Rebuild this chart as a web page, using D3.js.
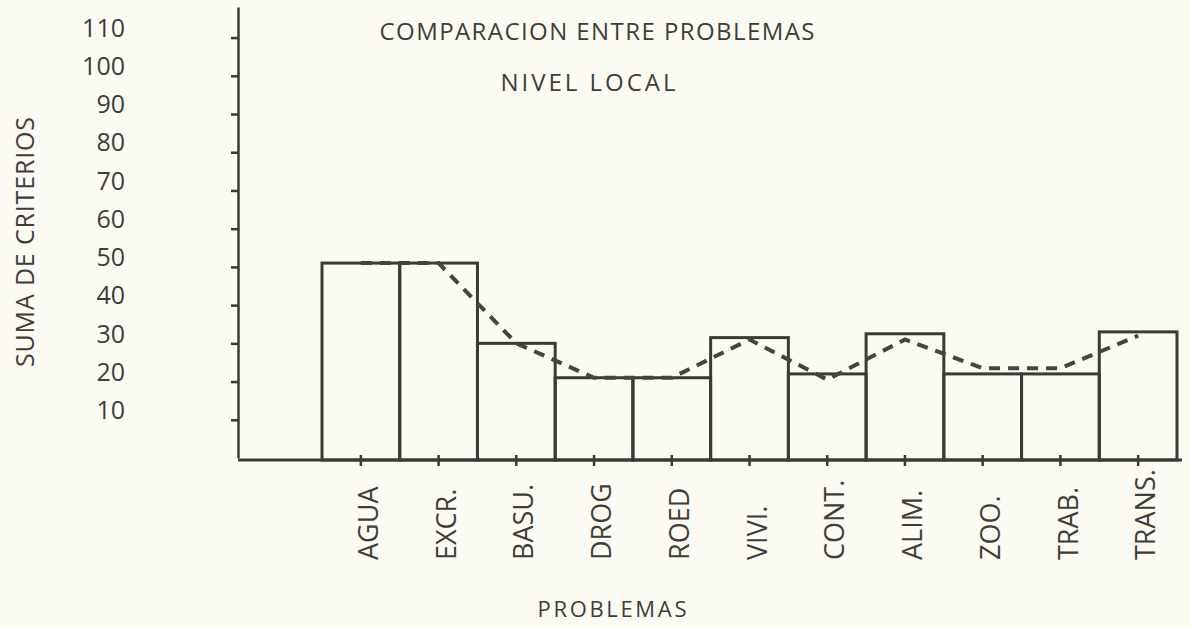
<!DOCTYPE html>
<html>
<head>
<meta charset="utf-8">
<script src="https://cdn.jsdelivr.net/npm/d3@7"></script>
<style>
  html, body { margin: 0; padding: 0; background: #fbfaf3; }
  svg { display: block; }
  text { font-family: "Open Sans", Lato, sans-serif; fill: #3e3e39; }
  .axis path, .axis line { stroke: #3b3b36; }
</style>
</head>
<body>
<svg width="1190" height="628"></svg>
<script>
// problemas evaluados (eje x)
var problemas = ["AGUA", "EXCR.", "BASU.", "DROG", "ROED", "VIVI.", "CONT.", "ALIM.", "ZOO.", "TRAB.", "TRANS."];
// suma de criterios por problema (barras)
var sumaCriterios = [51, 51, 30, 21, 21, 31.5, 22, 32.5, 22, 22, 33];
// linea discontinua
var tendencia = [51, 51, 30, 21, 21, 31, 20.5, 31, 23.5, 23.5, 32];
var yTicks = [10, 20, 30, 40, 50, 60, 70, 80, 90, 100, 110];

var ink = "#3b3b36";
var font = "'Open Sans', Lato, sans-serif";
var svg = d3.select("svg");

var axisX = 238, baseY = 458;
var x = d3.scaleBand().domain(problemas).range([322, 1177]).padding(0);
var y = d3.scaleLinear().domain([0, 118]).range([baseY, 7]);

// y axis
var gy = svg.append("g")
  .attr("class", "axis")
  .attr("transform", "translate(" + axisX + ",0)")
  .call(d3.axisLeft(y).tickValues(yTicks).tickSizeInner(7).tickSizeOuter(0).tickPadding(106));
gy.select(".domain").attr("stroke-width", 2.5);
gy.selectAll(".tick line").attr("stroke-width", 2.5);
gy.selectAll(".tick text")
  .attr("dy", "0.35em")
  .attr("y", -10)
  .attr("font-size", 25)
  .attr("fill", "#3e3e39")
  .attr("font-family", font);

// x axis
var gx = svg.append("g")
  .attr("class", "axis")
  .attr("transform", "translate(0," + (baseY + 2) + ")")
  .call(d3.axisBottom(x).tickSizeOuter(0).tickSizeInner(6).tickPadding(0));
gx.select(".domain").remove();
gx.insert("line", ":first-child")
  .attr("x1", axisX).attr("x2", 1182)
  .attr("stroke", ink).attr("stroke-width", 3);
gx.selectAll(".tick line").attr("y1", -5).attr("y2", 6).attr("stroke-width", 2.5);
gx.selectAll(".tick text")
  .attr("transform", "rotate(-90)")
  .attr("text-anchor", "start")
  .attr("x", -100)
  .attr("y", -2)
  .attr("font-size", 27)
  .attr("font-family", font)
  .attr("fill", "#3e3e39");

// barras (solo contorno)
svg.append("g")
  .selectAll("rect")
  .data(problemas)
  .enter().append("rect")
  .attr("x", function(d) { return x(d); })
  .attr("y", function(d, i) { return y(sumaCriterios[i]); })
  .attr("width", x.bandwidth())
  .attr("height", function(d, i) { return baseY + 2 - y(sumaCriterios[i]); })
  .attr("fill", "none")
  .attr("stroke", ink)
  .attr("stroke-width", 3);

// linea discontinua entre centros
var line = d3.line()
  .x(function(d, i) { return x(problemas[i]) + x.bandwidth() / 2; })
  .y(function(d) { return y(d); });

svg.append("path")
  .datum(tendencia)
  .attr("d", line)
  .attr("fill", "none")
  .attr("stroke", "#45453f")
  .attr("stroke-width", 4)
  .attr("stroke-dasharray", "11,8");

// titulos
svg.append("text")
  .attr("x", 597).attr("y", 40)
  .attr("text-anchor", "middle")
  .attr("font-size", 24)
  .attr("textLength", 435)
  .attr("lengthAdjust", "spacing")
  .text("COMPARACION ENTRE PROBLEMAS");

svg.append("text")
  .attr("x", 588).attr("y", 91)
  .attr("text-anchor", "middle")
  .attr("font-size", 24)
  .attr("textLength", 175)
  .attr("lengthAdjust", "spacing")
  .text("NIVEL LOCAL");

svg.append("text")
  .attr("transform", "translate(34,242) rotate(-90)")
  .attr("text-anchor", "middle")
  .attr("font-size", 25)
  .attr("textLength", 250)
  .attr("lengthAdjust", "spacing")
  .text("SUMA DE CRITERIOS");

svg.append("text")
  .attr("x", 612).attr("y", 617)
  .attr("text-anchor", "middle")
  .attr("font-size", 22)
  .attr("textLength", 149)
  .attr("lengthAdjust", "spacing")
  .text("PROBLEMAS");
</script>
</body>
</html>
